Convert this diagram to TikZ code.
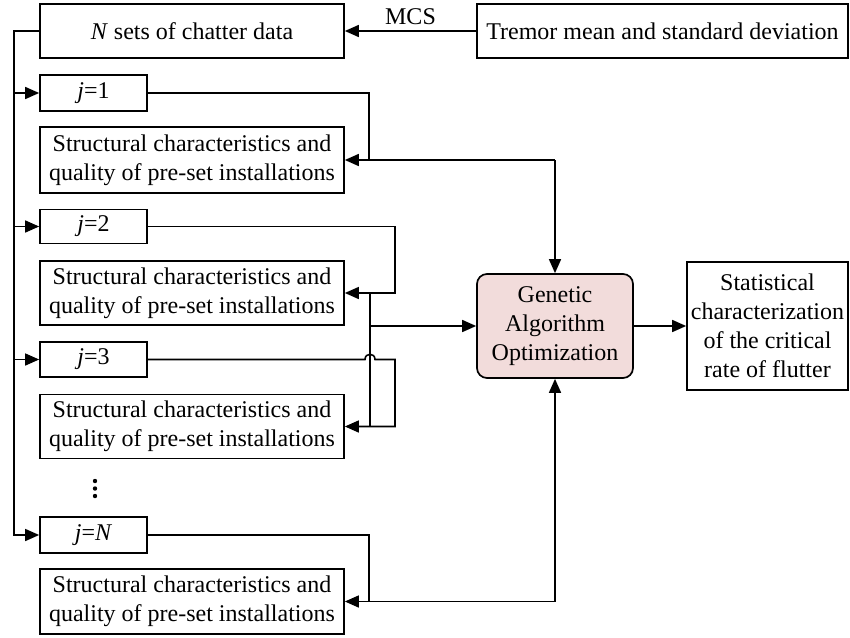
\documentclass[tikz,border=0pt]{standalone}
\usepackage{fontspec}
\setmainfont{Liberation Serif}
\usetikzlibrary{arrows.meta,calc}
\definecolor{gapink}{RGB}{242,220,219}
\tikzset{
  box/.style={draw, line width=1.7pt, align=center, inner sep=2pt,
    font=\fontsize{24}{29}\selectfont},
  conn/.style={line width=1.6pt},
  arr/.style={conn, -{Triangle[length=14pt,width=12pt]}},
}
\begin{document}
\begin{tikzpicture}[x=1pt,y=-1pt]
\useasboundingbox (0,0) rectangle (850,637);
% nodes
\node[box, minimum width=304pt, minimum height=54pt] (ndata) at (192,31) {\textit{N} sets of chatter data};
\node[box, minimum width=371pt, minimum height=54pt] (tremor) at (662.5,31) {Tremor mean and standard deviation};
\node[box, minimum width=107pt, minimum height=36pt] (j1) at (93.5,93) {\textit{j}=1};
\node[box, minimum width=304pt, minimum height=66pt] (s1) at (192,160) {Structural characteristics and\\quality of pre-set installations};
\node[box, minimum width=107pt, minimum height=34pt] (j2) at (93.5,226.5) {\textit{j}=2};
\node[box, minimum width=304pt, minimum height=64pt] (s2) at (192,293) {Structural characteristics and\\quality of pre-set installations};
\node[box, minimum width=107pt, minimum height=35pt] (j3) at (93.5,359.5) {\textit{j}=3};
\node[box, minimum width=304pt, minimum height=64pt] (s3) at (192,426.5) {Structural characteristics and\\quality of pre-set installations};
\node[box, minimum width=107pt, minimum height=36pt] (jN) at (93.5,535) {\textit{j}=\textit{N}};
\node[box, minimum width=304pt, minimum height=65pt] (sN) at (192,601.5) {Structural characteristics and\\quality of pre-set installations};
\node[box, fill=gapink, rounded corners=10pt, minimum width=156pt, minimum height=104pt] (ga) at (555,326) {Genetic\\Algorithm\\Optimization};
\node[box, minimum width=161pt, minimum height=128pt] (stat) at (767.5,326) {Statistical\\characterization\\of the critical\\rate of flutter};
% vertical ellipsis
\foreach \yy in {481,488.5,496} \fill (95,\yy) circle (2.2pt);
% coordinates
\coordinate (bx) at (14,0);
\coordinate (c1) at (369,0);
\coordinate (r2) at (395,0);
\coordinate (bus) at (370,0);
% top
\draw[arr] (tremor.west) -- node[above=2pt, font=\fontsize{24}{29}\selectfont] {MCS} (ndata.east);
% left bus
\draw[arr] (ndata.west) -| (bx |- jN.west) -- (jN.west);
\draw[arr] (bx |- j1.west) -- (j1.west);
\draw[arr] (bx |- j2.west) -- (j2.west);
\draw[arr] (bx |- j3.west) -- (j3.west);
% j=1 branch
\draw[conn] (j1.east) -| (c1 |- s1.east);
\draw[arr] (ga.north |- s1.east) -- (s1.east);
\draw[arr] (ga.north |- s1.east) -- (ga.north);
% j=2 branch
\draw[arr] (j2.east) -| (r2 |- s2.east) -- (s2.east);
% j=3 branch with hop
\draw[arr] (j3.east) -- ($(bus |- j3.east)+(-5,0)$) .. controls ($(bus |- j3.east)+(-5,-7)$) and ($(bus |- j3.east)+(5,-7)$) .. ($(bus |- j3.east)+(5,0)$) -| (r2 |- s3.east) -- (s3.east);
% collecting bus
\draw[conn] (bus |- s2.east) -- (bus |- s3.east);
\draw[arr] (bus |- ga.west) -- (ga.west);
% j=N branch
\draw[conn] (jN.east) -| (c1 |- sN.east);
\draw[arr] (ga.south |- sN.east) -- (sN.east);
\draw[arr] (ga.south |- sN.east) -- (ga.south);
% output
\draw[arr] (ga.east) -- (stat.west);
\end{tikzpicture}
\end{document}
